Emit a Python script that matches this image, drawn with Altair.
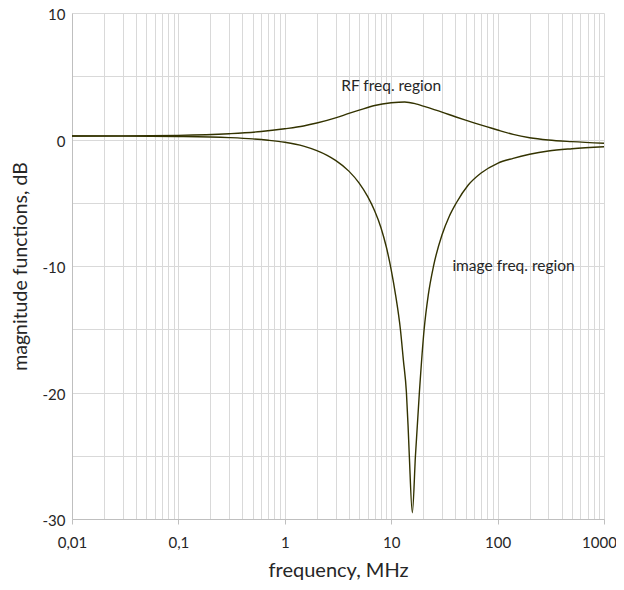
import altair as alt
import pandas as pd

# RF freq. region curve (upper)
rf_freq = [0.01, 0.03, 0.1, 0.3, 0.6, 1, 1.5, 2, 3, 4, 5, 7, 10, 13.4, 17, 20,
           30, 40, 50, 60, 80, 100, 140, 200, 300, 500, 1000]
rf_db = [0.28, 0.29, 0.33, 0.46, 0.63, 0.85, 1.07, 1.3, 1.71, 2.06, 2.32, 2.69,
         2.9, 2.97, 2.82, 2.64, 2.17, 1.8, 1.53, 1.32, 1.0, 0.75, 0.4, 0.14,
         -0.04, -0.17, -0.3]

# image freq. region curve (notch)
img_freq = [0.01, 0.03, 0.1, 0.3, 0.5, 0.7, 1, 1.5, 2, 2.5, 3, 4, 5, 6, 7, 8, 9,
            10, 11, 12.2, 13, 13.9, 14.4, 14.8, 15.8, 16.9, 18.4, 20.4, 22.3,
            25, 30, 35, 41, 53, 70, 100, 140, 200, 300, 500, 1000]
img_db = [0.28, 0.27, 0.24, 0.15, 0.05, -0.06, -0.22, -0.52, -0.88, -1.25,
          -1.65, -2.5, -3.45, -4.5, -5.65, -6.95, -8.5, -10.3, -12.3, -15.0,
          -17.4, -20.0, -22.6, -25.0, -29.5, -25.0, -20.0, -15.0, -12.3, -10.0,
          -7.55, -6.1, -5.0, -3.6, -2.65, -1.88, -1.49, -1.17, -0.91, -0.73,
          -0.57]

# annotations
ann_text = ["RF freq. region", "image freq. region"]
ann_freq = [10, 37.6]
ann_db = [4.25, -10]
ann_align = ["center", "left"]

# axis ticks
decades = [0.01, 0.1, 1, 10, 100]
multipliers = [1, 2, 3, 4, 5, 6, 7, 8, 9]
x_grid = [round(d * m, 6) for d in decades for m in multipliers] + [1000]
y_grid = [-30, -25, -20, -15, -10, -5, 0, 5, 10]

FONT = "Lato"
GRID = "#d9d9d9"
LINE = "#333300"
TEXT = "#262626"

df = pd.DataFrame({
    "freq": rf_freq + img_freq,
    "db": rf_db + img_db,
    "series": ["RF"] * len(rf_freq) + ["image"] * len(img_freq),
})
ann = pd.DataFrame({"freq": ann_freq, "db": ann_db, "text": ann_text, "align": ann_align})

is_major = "abs(log(datum.value)/LN10 - round(log(datum.value)/LN10)) < 0.000001"

x_scale = alt.Scale(type="log", domain=[0.01, 1000], nice=False)
y_scale = alt.Scale(domain=[-30, 10], nice=False)

x_axis = alt.Axis(
    values=x_grid,
    title="frequency, MHz",
    grid=True, gridColor=GRID, gridWidth=1,
    domainColor="#bfbfbf",
    tickColor="#bfbfbf", tickSize=5,
    tickOpacity={"condition": {"test": is_major, "value": 1}, "value": 0},
    labelExpr=f"({is_major}) ? replace(format(datum.value, ''), '.', ',') : ''",
    labelOffset={"condition": {"test": "datum.value >= 999", "value": -5}, "value": 0},
    labelFont=FONT, labelFontSize=15, labelColor=TEXT, labelPadding=11,
    labelOverlap=False, labelFlush=False,
    titleFont=FONT, titleFontSize=20, titleFontWeight="normal", titleColor=TEXT,
    titleY=57, titleBaseline="alphabetic",
)
y_axis = alt.Axis(
    values=y_grid,
    title="magnitude functions, dB",
    grid=True, gridColor=GRID, gridWidth=1,
    domainColor="#bfbfbf", ticks=False,
    labelExpr="datum.value % 10 == 0 ? '' + datum.value : ''",
    labelOffset=1.5,
    labelFont=FONT, labelFontSize=15, labelColor=TEXT, labelPadding=7,
    titleFont=FONT, titleFontSize=19.5, titleFontWeight="normal", titleColor=TEXT,
    titleX=-46, titleY=253, titleAngle=-90, titleBaseline="alphabetic",
)

lines = alt.Chart(df).mark_line(
    color=LINE, strokeWidth=1.4, interpolate="monotone"
).encode(
    x=alt.X("freq:Q", scale=x_scale, axis=x_axis),
    y=alt.Y("db:Q", scale=y_scale, axis=y_axis),
    detail="series:N",
)

labels_center = alt.Chart(ann[ann["align"] == "center"]).mark_text(
    font=FONT, fontSize=15.5, color=TEXT, align="center", baseline="middle"
).encode(x=alt.X("freq:Q", scale=x_scale), y=alt.Y("db:Q", scale=y_scale), text="text:N")

labels_left = alt.Chart(ann[ann["align"] == "left"]).mark_text(
    font=FONT, fontSize=15.5, color=TEXT, align="left", baseline="middle"
).encode(x=alt.X("freq:Q", scale=x_scale), y=alt.Y("db:Q", scale=y_scale), text="text:N")

chart = alt.layer(lines, labels_center, labels_left).properties(
    width=532, height=506,
    autosize=alt.AutoSizeParams(type="none"),
    padding={"left": 64, "top": 5, "right": 12, "bottom": 63},
    background="white",
).configure_view(stroke=None)

chart.save("out.html", embed_options={"renderer": "svg", "actions": False})
